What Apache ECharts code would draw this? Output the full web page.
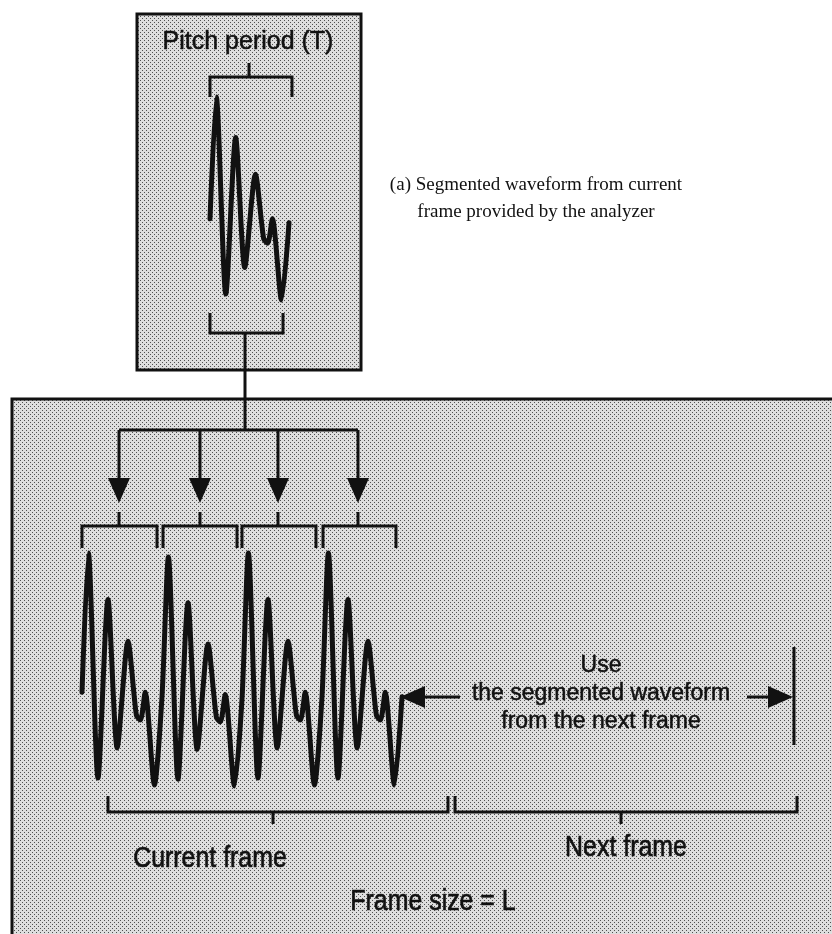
<!DOCTYPE html>
<html>
<head>
<meta charset="utf-8">
<script src="https://cdn.jsdelivr.net/npm/echarts@6/dist/echarts.min.js"></script>
<style>
html, body { margin: 0; padding: 0; background: #fff; }
#chart { width: 832px; height: 934px; }
</style>
</head>
<body>
<div id="chart"></div>
<script>
// shaded boxes: [x0, y0, x1, y1]
const boxes = [
  [137, 14, 361, 370],
  [12, 399, 845, 945]
];

// one pitch period of the waveform: time fraction and depth (0 = top of peak, 1 = trough)
const pulseT = [0.00, 0.08, 0.20, 0.325, 0.44, 0.575, 0.68, 0.73, 0.79, 0.905, 1.00];
const pulseV = [0.60, 0.00, 0.97, 0.20, 0.84, 0.38, 0.70, 0.72, 0.60, 1.00, 0.62];

// where a period is placed: [x start, y top, width, height]
const topPulse = [210, 97, 79, 203];
const framePulses = [
  [82, 553, 80, 232],
  [162, 557, 80, 229],
  [242, 553, 80, 232],
  [322, 553, 80, 232]
];

// brackets: [x left, x right, x tick, y bar, y leg end, y tick end]
const brackets = [
  [210, 292, 249, 77, 97, 63],
  [210, 283, 245, 333, 313, 333],
  [82, 157, 119, 526, 548, 512],
  [163, 237, 200, 526, 548, 512],
  [242, 316, 278, 526, 548, 512],
  [323, 396, 358, 526, 548, 512],
  [108, 448, 273, 812, 796, 824],
  [455, 797, 621, 812, 796, 824]
];

// plain segments: [x1, y1, x2, y2]
const segments = [
  [245, 333, 245, 430],
  [119, 430, 358, 430],
  [794, 647, 794, 745]
];

// arrows: [x from, y from, x tip, y tip]
const arrows = [
  [119, 430, 119, 503],
  [200, 430, 200, 503],
  [278, 430, 278, 503],
  [358, 430, 358, 503],
  [460, 697, 400, 697],
  [747, 697, 793, 697]
];

// labels: [x centre, y centre, text]
const titleLabels = [
  [248, 42, 'Pitch period (T)']
];
const noteLabels = [
  [601, 666, 'Use'],
  [601, 694, 'the segmented waveform'],
  [601, 722, 'from the next frame']
];
const frameLabels = [
  [210, 859, 'Current frame'],
  [626, 848, 'Next frame'],
  [433, 902, 'Frame size = L']
];
const captionLabels = [
  [536, 185, '(a) Segmented waveform from current'],
  [536, 212, 'frame provided by the analyzer']
];

const ink = '#111';

// halftone texture for the boxes
const tex = document.createElement('canvas');
tex.width = 4; tex.height = 4;
const g = tex.getContext('2d');
g.fillStyle = '#dedede'; g.fillRect(0, 0, 4, 4);
g.fillStyle = '#505050'; g.fillRect(0, 0, 1, 1); g.fillRect(2, 2, 1, 1);
const shade = { image: tex, repeat: 'repeat' };

function placePulse(p, skipFirst) {
  const pts = [];
  for (let i = skipFirst ? 1 : 0; i < pulseT.length; i++) {
    pts.push([p[0] + pulseT[i] * p[2], p[1] + pulseV[i] * p[3]]);
  }
  return pts;
}
const topWave = placePulse(topPulse, false);
let frameWave = [];
framePulses.forEach((p, i) => { frameWave = frameWave.concat(placePulse(p, i > 0)); });

function pt(api, x, y) { return api.coord([x, y]); }

function labelSeries(list, family, size, squeeze, weight) {
  return {
    type: 'custom', z: 6, clip: false, silent: true,
    data: list,
    renderItem: (params, api) => {
      const d = list[params.dataIndex];
      const c = pt(api, d[0], d[1]);
      return {
        type: 'text', x: c[0], y: c[1], scaleX: squeeze,
        style: {
          text: d[2], fontFamily: family, fontSize: size, fill: ink,
          stroke: weight ? ink : null, lineWidth: weight,
          align: 'center', verticalAlign: 'middle'
        }
      };
    }
  };
}

const waveLine = { color: ink, width: 5, join: 'round', cap: 'round' };

const chart = echarts.init(document.getElementById('chart'), null, { renderer: 'canvas' });
chart.setOption({
  animation: false,
  backgroundColor: '#fff',
  grid: { left: 0, right: 0, top: 0, bottom: 0 },
  xAxis: { type: 'value', min: 0, max: 832, show: false },
  yAxis: { type: 'value', min: 0, max: 934, inverse: true, show: false },
  series: [
    {
      type: 'custom', z: 1, clip: false, silent: true,
      data: boxes,
      renderItem: (params, api) => {
        const a = pt(api, api.value(0), api.value(1));
        const b = pt(api, api.value(2), api.value(3));
        return {
          type: 'rect',
          shape: { x: a[0], y: a[1], width: b[0] - a[0], height: b[1] - a[1] },
          style: { fill: shade, stroke: ink, lineWidth: 3 }
        };
      }
    },
    {
      type: 'custom', z: 3, clip: false, silent: true,
      data: segments,
      renderItem: (params, api) => {
        const a = pt(api, api.value(0), api.value(1));
        const b = pt(api, api.value(2), api.value(3));
        return {
          type: 'line',
          shape: { x1: a[0], y1: a[1], x2: b[0], y2: b[1] },
          style: { stroke: ink, lineWidth: 3 }
        };
      }
    },
    {
      type: 'custom', z: 3, clip: false, silent: true,
      data: brackets,
      renderItem: (params, api) => {
        const d = brackets[params.dataIndex];
        const p1 = pt(api, d[0], d[4]), p2 = pt(api, d[0], d[3]);
        const p3 = pt(api, d[1], d[3]), p4 = pt(api, d[1], d[4]);
        const t1 = pt(api, d[2], d[3]), t2 = pt(api, d[2], d[5]);
        return {
          type: 'group',
          children: [
            { type: 'polyline', shape: { points: [p1, p2, p3, p4] }, style: { stroke: ink, lineWidth: 3, fill: null } },
            { type: 'line', shape: { x1: t1[0], y1: t1[1], x2: t2[0], y2: t2[1] }, style: { stroke: ink, lineWidth: 3 } }
          ]
        };
      }
    },
    {
      type: 'custom', z: 4, clip: false, silent: true,
      data: arrows,
      renderItem: (params, api) => {
        const d = arrows[params.dataIndex];
        const a = pt(api, d[0], d[1]);
        const b = pt(api, d[2], d[3]);
        const len = Math.hypot(b[0] - a[0], b[1] - a[1]);
        const ux = (b[0] - a[0]) / len, uy = (b[1] - a[1]) / len;
        const head = 25, half = 11;
        const bx = b[0] - ux * head, by = b[1] - uy * head;
        return {
          type: 'group',
          children: [
            { type: 'line', shape: { x1: a[0], y1: a[1], x2: bx, y2: by }, style: { stroke: ink, lineWidth: 3 } },
            { type: 'polygon', shape: { points: [[b[0], b[1]], [bx - uy * half, by + ux * half], [bx + uy * half, by - ux * half]] }, style: { fill: ink } }
          ]
        };
      }
    },
    { type: 'line', z: 5, data: topWave, showSymbol: false, smooth: 0.25, lineStyle: waveLine, silent: true },
    { type: 'line', z: 5, data: frameWave, showSymbol: false, smooth: 0.25, lineStyle: waveLine, silent: true },
    labelSeries(titleLabels, '"Liberation Sans", Arial, sans-serif', 25, 1, 0.5),
    labelSeries(noteLabels, '"Liberation Sans", Arial, sans-serif', 23, 1, 0.5),
    labelSeries(frameLabels, '"Liberation Sans", Arial, sans-serif', 30, 0.83, 0.7),
    labelSeries(captionLabels, '"Liberation Serif", "Times New Roman", serif', 19, 1, 0)
  ]
});
</script>
</body>
</html>
